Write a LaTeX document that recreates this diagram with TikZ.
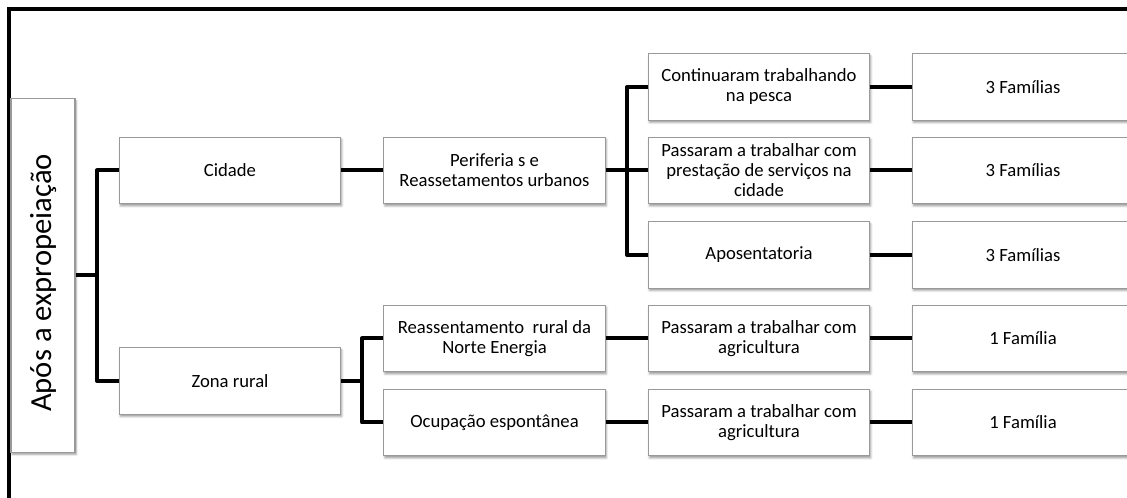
\documentclass[tikz,border=0pt]{standalone}
\usepackage{fontspec}
\setmainfont{Carlito}
\usetikzlibrary{shadows.blur}

\tikzset{
  box/.style={draw=black!40, line width=0.8pt, fill=white,
    minimum width=166pt, minimum height=50pt, align=center, inner sep=1pt,
    font=\fontsize{14}{15}\selectfont,
    blur shadow={shadow xshift=0.8pt, shadow yshift=-1.6pt,
      shadow blur radius=1.6pt, shadow opacity=40}},
  conn/.style={line width=3pt, line join=round},
}

\begin{document}
\begin{tikzpicture}[x=0.75pt,y=0.75pt,yscale=-1,xscale=1]

\clip (0,0) rectangle (1127,498);

\draw [line width=3pt] (8.5,510) -- (8.5,9) -- (1140,9) ;

\node (root) at (43,275.5) [box, minimum width=48pt, minimum height=265pt] {};

\node (rtext) at (44,283) [rotate=90, inner sep=0pt, font=\fontsize{23}{25}\selectfont] {Após a expropeiação};

\node (cid) at (230,170.5) [box] {Cidade};

\node (zr) at (230,381) [box] {Zona rural};

\node (per) at (494.5,170.5) [box] {Periferia s e\\Reassetamentos urbanos};

\node (rea) at (494.5,338.5) [box] {Reassentamento\ \ rural da\\Norte Energia};

\node (ocu) at (494.5,422.5) [box] {Ocupação espontânea};

\node (pes) at (759,87) [box] {Continuaram trabalhando\\na pesca};

\node (ser) at (759,170.5) [box] {Passaram a trabalhar com\\prestação de serviços na\\cidade};

\node (apo) at (759,255) [box] {Aposentatoria};

\node (agr1) at (759,338.5) [box] {Passaram a trabalhar com\\agricultura};

\node (agr2) at (759,422.5) [box] {Passaram a trabalhar com\\agricultura};

\node (fam1) at (1023,87) [box] {3 Famílias};

\node (fam2) at (1023,170.5) [box] {3 Famílias};

\node (fam3) at (1023,255) [box] {3 Famílias};

\node (fam4) at (1023,338.5) [box] {1 Família};

\node (fam5) at (1023,422.5) [box] {1 Família};

\coordinate (k0) at (97,275.5);
\coordinate (k1) at (627,170.5);
\coordinate (k2) at (362,381);

\draw [conn] (root.east) -- (k0) ;
\draw [conn] (cid.west) -| (k0) |- (zr.west) ;

\draw [conn] (cid) -- (per) ;
\draw [conn] (per.east) -- (k1) -- (ser.west) ;
\draw [conn] (pes.west) -| (k1) |- (apo.west) ;

\draw [conn] (zr.east) -- (k2) ;
\draw [conn] (rea.west) -| (k2) |- (ocu.west) ;

\draw [conn] (rea) -- (agr1) ;
\draw [conn] (ocu) -- (agr2) ;

\draw [conn] (pes) -- (fam1) ;
\draw [conn] (ser) -- (fam2) ;
\draw [conn] (apo) -- (fam3) ;
\draw [conn] (agr1) -- (fam4) ;
\draw [conn] (agr2) -- (fam5) ;

\end{tikzpicture}
\end{document}
